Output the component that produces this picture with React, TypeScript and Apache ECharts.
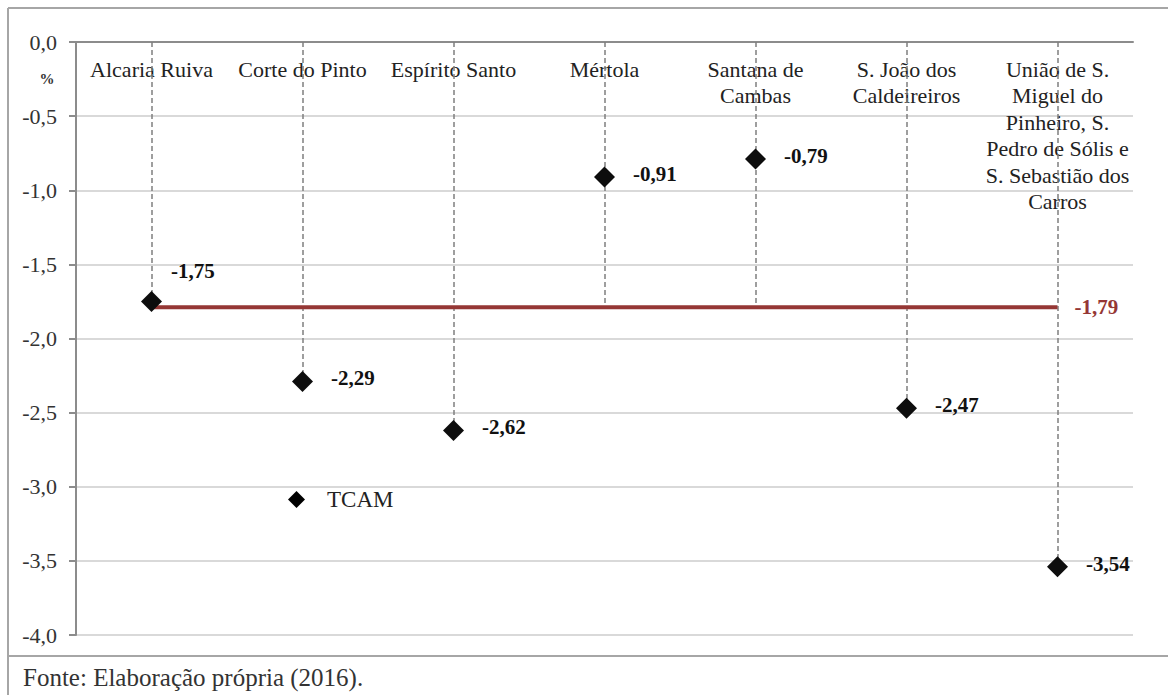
import React, { useEffect, useRef } from "react";
import * as echarts from "echarts";

// Parishes (freguesias) of Mértola
const categories = [
  "Alcaria Ruiva",
  "Corte do Pinto",
  "Espírito Santo",
  "Mértola",
  "Santana de\nCambas",
  "S. João dos\nCaldeireiros",
  "União de S.\nMiguel do\nPinheiro, S.\nPedro de Sólis e\nS. Sebastião dos\nCarros",
];

// TCAM (%) per parish
const tcamValues = [-1.75, -2.29, -2.62, -0.91, -0.79, -2.47, -3.54];

// Municipal reference value (%)
const municipalTcam = -1.79;

const yTicks = { min: -4, max: 0, interval: 0.5 };

const SERIF = "Liberation Serif";
const fmt = (v: number, d: number) => v.toFixed(d).replace(".", ",");

export default function App() {
  const ref = useRef<HTMLDivElement>(null);

  useEffect(() => {
    if (!ref.current) return;
    const chart = echarts.init(ref.current, undefined, { renderer: "svg" });

    const scatterData = tcamValues.map((v, i) =>
      i === 0
        ? { value: v, label: { position: "right", offset: [-9, -30] } }
        : { value: v }
    );

    const dropLines = tcamValues.map((v, i) => [
      { coord: [i, 0] },
      { coord: [i, Math.min(v, municipalTcam)] },
    ]);

    const option: any = {
      animation: false,
      textStyle: { fontFamily: SERIF },
      grid: { left: 76, top: 42, right: 35, bottom: 60 },
      legend: {
        data: ["TCAM"],
        left: 283,
        top: 483,
        itemWidth: 17,
        itemHeight: 17,
        icon: "diamond",
        itemStyle: { color: "#000", opacity: 1 },
        textStyle: {
          fontFamily: SERIF,
          fontSize: 23,
          color: "#222",
          padding: [0, 0, 0, 17],
        },
      },
      xAxis: {
        type: "category",
        data: categories,
        position: "top",
        boundaryGap: true,
        axisLine: { show: true, lineStyle: { color: "#8c8c8c", width: 2 } },
        axisTick: { show: false },
        axisLabel: {
          inside: true,
          margin: 14,
          interval: 0,
          fontFamily: SERIF,
          fontSize: 22,
          lineHeight: 26.5,
          color: "#222",
          align: "center",
        },
        splitLine: { show: false },
      },
      yAxis: {
        type: "value",
        min: yTicks.min,
        max: yTicks.max,
        interval: yTicks.interval,
        axisLine: { show: true, lineStyle: { color: "#8c8c8c", width: 2 } },
        axisTick: { show: true, length: 7, lineStyle: { color: "#8c8c8c", width: 2 } },
        axisLabel: {
          margin: 19,
          fontFamily: SERIF,
          fontSize: 22,
          color: "#333",
          formatter: (v: number) => fmt(v, 1),
        },
        splitLine: { show: true, lineStyle: { color: "#d9d9d9", width: 2 } },
      },
      series: [
        {
          name: "Média",
          type: "line",
          data: categories.map(() => municipalTcam),
          symbol: "none",
          z: 2,
          lineStyle: { color: "#953735", width: 4 },
          endLabel: {
            show: true,
            formatter: () => fmt(municipalTcam, 2),
            color: "#953735",
            fontFamily: SERIF,
            fontWeight: "bold",
            fontSize: 21,
            distance: 17,
          },
        },
        {
          name: "TCAM",
          type: "scatter",
          data: scatterData,
          symbol: "diamond",
          symbolSize: 21,
          z: 4,
          itemStyle: { color: "#0d0d0d", opacity: 1 },
          label: {
            show: true,
            position: "right",
            distance: 18,
            offset: [0, -3],
            formatter: (p: any) => fmt(p.value, 2),
            fontFamily: SERIF,
            fontWeight: "bold",
            fontSize: 21,
            color: "#111",
          },
          markLine: {
            silent: true,
            symbol: ["none", "none"],
            label: { show: false },
            lineStyle: { color: "#7f7f7f", width: 1.5, type: [5, 3] },
            data: dropLines,
            z: 1,
          },
        },
      ],
      graphic: [
        {
          type: "line",
          shape: { x1: 8, y1: 8, x2: 1168, y2: 8 },
          style: { stroke: "#a6a6a6", lineWidth: 2 },
        },
        {
          type: "line",
          shape: { x1: 8, y1: 8, x2: 8, y2: 695 },
          style: { stroke: "#a6a6a6", lineWidth: 2 },
        },
        {
          type: "line",
          shape: { x1: 8, y1: 656, x2: 1168, y2: 656 },
          style: { stroke: "#a6a6a6", lineWidth: 2 },
        },
        {
          type: "text",
          x: 47,
          y: 79,
          style: {
            text: "%",
            fontFamily: SERIF,
            fontWeight: "bold",
            fontSize: 15,
            fill: "#333",
            align: "center",
            verticalAlign: "middle",
          },
        },
        {
          type: "text",
          x: 23,
          y: 677,
          style: {
            text: "Fonte: Elaboração própria (2016).",
            fontFamily: SERIF,
            fontSize: 25,
            fill: "#333",
            align: "left",
            verticalAlign: "middle",
          },
        },
      ],
    };

    chart.setOption(option);
    return () => chart.dispose();
  }, []);

  return (
    <div
      ref={ref}
      style={{
        position: "fixed",
        left: 0,
        top: 0,
        width: 1168,
        height: 695,
        background: "#fff",
      }}
    />
  );
}
